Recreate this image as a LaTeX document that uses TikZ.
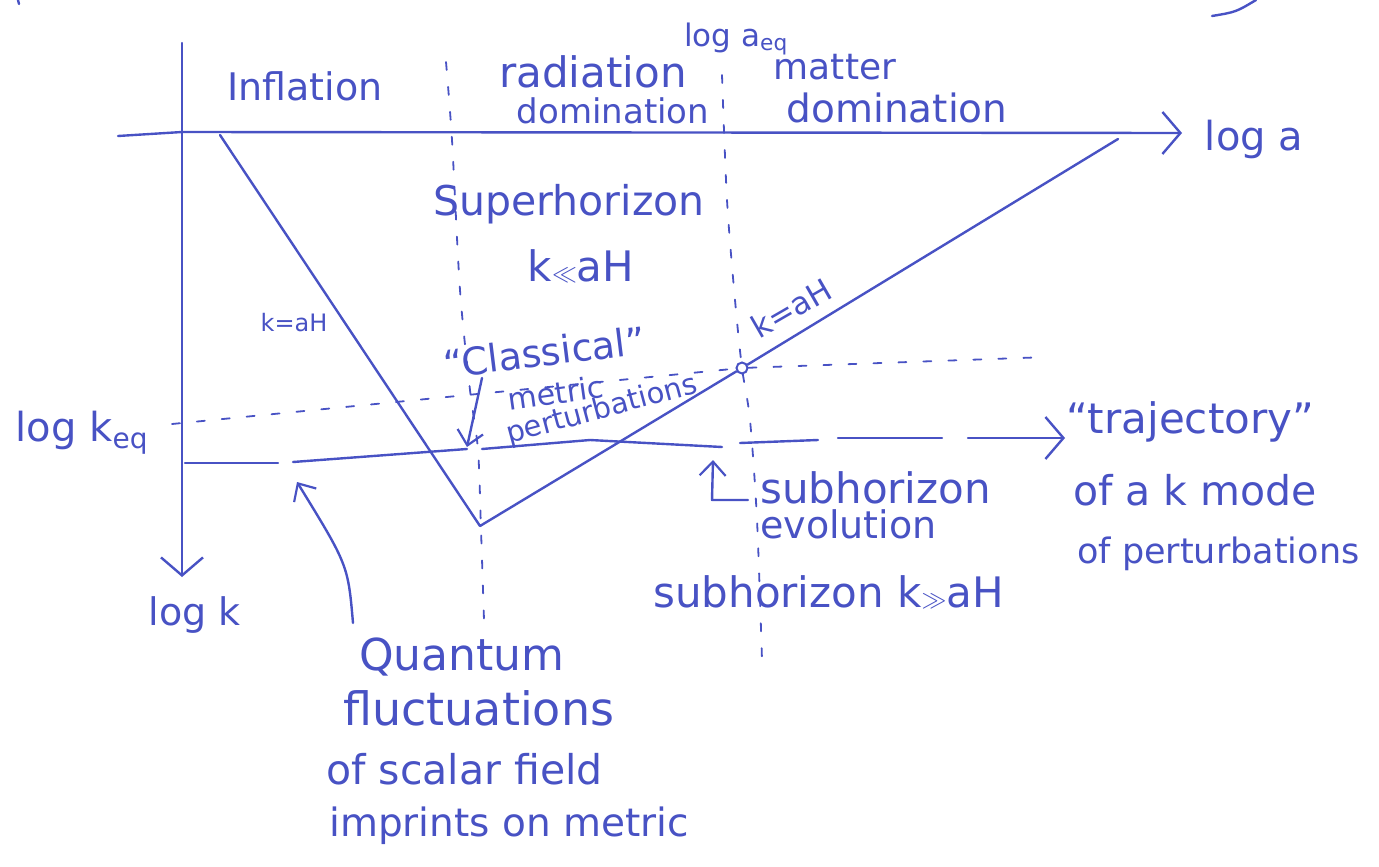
\documentclass[tikz,border=0pt]{standalone}
\usepackage{fontspec}
\setmainfont{DejaVu Sans}
\usetikzlibrary{arrows.meta}
\definecolor{pen}{RGB}{72,82,196}
\begin{document}
\begin{tikzpicture}[x=1pt,y=-1pt,
  hand/.style={text=pen,inner sep=0pt,anchor=base},
  handw/.style={text=pen,inner sep=0pt,anchor=base west},
  fs/.style={font=\fontsize{#1}{#1}\selectfont},
  pline/.style={draw=pen,line width=2.4pt,line cap=round,line join=round},
  dline/.style={draw=pen,line width=1.8pt,line cap=round,dash pattern=on 8pt off 17pt},
  barb/.style={-{Straight Barb[length=18pt,width=42pt,line width=2.4pt]}},
  sbarb/.style={-{Straight Barb[length=14pt,width=26pt,line width=2.2pt]}}]
\useasboundingbox (0,0) rectangle (1379,867);

% axes
\coordinate (vtop) at (182,43);
\coordinate (vbot) at (182,577);
\coordinate (hleft) at (118,136);
\coordinate (O) at (182,132);
\coordinate (hright) at (1182,133);
\draw[pline,barb] (vtop) -- (vbot);
\draw[pline,barb] (hleft) -- (O) -- (hright);

% horizon crossing line k = aH
\coordinate (dstart) at (220,135);
\coordinate (vtx) at (480,526);
\coordinate (aend) at (1118,139);
\node[circle,draw=pen,line width=2pt,inner sep=0pt,minimum size=11pt] (eq) at (742,368) {};
\draw[pline] (dstart) -- (vtx) -- (eq) -- (aend);

% dashed verticals
\draw[dline] plot[smooth] coordinates {(446,62) (452,140) (460,290) (470,390) (478,450) (481,530) (484,620)};
\draw[dline] plot[smooth] coordinates {(722,75) (727,200) (735,300) (742,368) (750,420) (757,520) (762,660)};

% dashed k_eq line
\coordinate (keqL) at (172,424);
\coordinate (keqR) at (1048,357);
\draw[dline] (keqL) -- (eq) -- (keqR);

% trajectory of a k mode
\coordinate (t0) at (185,463); \coordinate (t1) at (278,463);
\coordinate (t2) at (293,462); \coordinate (t3) at (467,449);
\coordinate (t4) at (482,449); \coordinate (tm) at (590,440); \coordinate (t5) at (722,447);
\coordinate (t6) at (740,443); \coordinate (t7) at (818,440);
\coordinate (t8) at (838,438); \coordinate (t9) at (942,438);
\coordinate (t10) at (968,438); \coordinate (t11) at (1065,438);
\draw[pline] (t0) -- (t1);
\draw[pline] (t2) -- (t3);
\draw[pline] (t4) -- (tm) -- (t5);
\draw[pline] (t6) -- (t7);
\draw[pline] (t8) -- (t9);
\draw[pline,barb] (t10) -- (t11);

% labels
\node[hand,fs=38] (inflation) at (305,100) {Inflation};
\node[hand,fs=42] (rad) at (593,88) {radiation};
\node[hand,fs=34] (dom1) at (613,123) {domination};
\node[hand,fs=31] (logaeq) at (736,47) {log a\textsubscript{eq}};
\node[hand,fs=36] (matter) at (835,80) {matter};
\node[hand,fs=39] (dom2) at (897,122) {domination};
\node[hand,fs=40] (loga) at (1254,150) {log a};
\node[hand,fs=41] (super) at (569,215) {Superhorizon};
\node[hand,fs=42] (kll) at (581,281) {k$\ll$aH};
\node[hand,fs=24] (kaH1) at (294,331) {k=aH};
\node[hand,fs=31,rotate=30] (kaH2) at (797,318) {k=aH};
\node[hand,fs=38,rotate=7] (classical) at (546,366) {``Classical''};
\node[hand,fs=30,rotate=8] (metric) at (557,404) {metric};
\node[hand,fs=29,rotate=15] (pert) at (604,418) {perturbations};
\node[hand,fs=40] (logkeq) at (82,441) {log k\textsubscript{eq}};
\node[hand,fs=38] (logk) at (195,625) {log k};
\node[handw,fs=42] (traj1) at (1066,433) {``trajectory''};
\node[handw,fs=41] (traj2) at (1073,505) {of a k mode};
\node[handw,fs=35] (traj3) at (1077,563) {of perturbations};
\node[handw,fs=42] (sub1) at (760,503) {subhorizon};
\node[handw,fs=38] (sub2) at (760,538) {evolution};
\node[handw,fs=42] (subk) at (653,607) {subhorizon k$\gg$aH};
\node[handw,fs=44] (q1) at (359,670) {Quantum};
\node[handw,fs=46] (q2) at (343,725) {fluctuations};
\node[handw,fs=41] (q3) at (326,784) {of scalar field};
\node[handw,fs=39] (q4) at (329,836) {imprints on metric};

% annotation arrows
\coordinate (ca) at (482,378);
\coordinate (ct) at (467,447);
\draw[pline,sbarb] (ca) -- (ct);
\coordinate (qa) at (353,623);
\coordinate (qt) at (297,482);
\draw[pline,sbarb] (qa) .. controls (348,565) .. (qt);
\coordinate (ba) at (748,500);
\coordinate (bt) at (713,460);
\draw[pline,sbarb] (ba) -- (712,500) -- (bt);

% cut-off pen strokes at the edges
\coordinate (fr1) at (1212,16);
\coordinate (fr2) at (1256,0);
\draw[pline] (fr1) .. controls (1236,12) .. (fr2);
\coordinate (fl1) at (18,0);
\coordinate (fl2) at (19,4);
\draw[pline] (fl1) -- (fl2);
\end{tikzpicture}
\end{document}
